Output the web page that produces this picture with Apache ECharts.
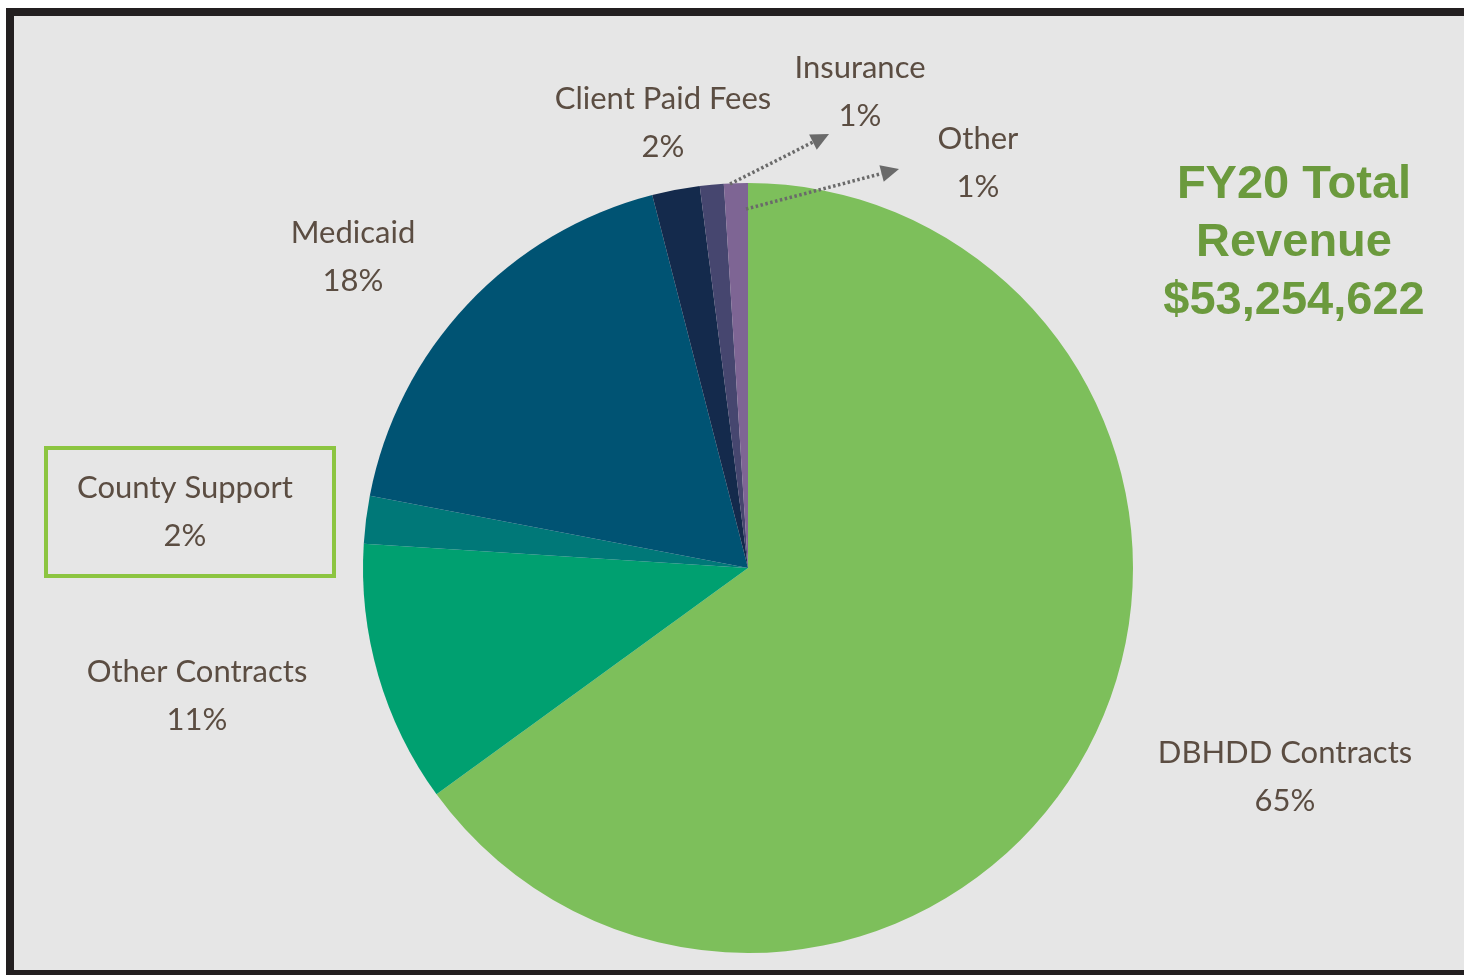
<!DOCTYPE html>
<html>
<head>
<meta charset="utf-8">
<title>FY20 Total Revenue</title>
<script src="https://cdn.jsdelivr.net/npm/echarts@6/dist/echarts.min.js"></script>
<style>
  html, body { margin: 0; padding: 0; background: #fff; overflow: hidden; }
  .frame {
    position: absolute; left: 6px; top: 8px; width: 1500px; height: 970px;
    box-sizing: border-box; border: 8px solid #231f20; background: #e6e6e6;
  }
  #main { position: absolute; left: 0; top: 0; width: 1464px; height: 975px; }
</style>
</head>
<body>
<div class="frame"></div>
<div id="main"></div>
<script>
// revenue sources, clockwise from 12 o'clock
const categories = ['DBHDD Contracts', 'Other Contracts', 'County Support', 'Medicaid', 'Client Paid Fees', 'Insurance', 'Other'];
const shares = [65, 11, 2, 18, 2, 1, 1];
const colors = ['#7dbf5b', '#00a070', '#007878', '#005373', '#142a4c', '#46466f', '#7e6594'];
const totalLines = ['FY20 Total', 'Revenue', '$53,254,622'];

// where each label sits (centre of the two-line block)
const labelPos = [
  [1285, 777], [197, 696], [185, 512], [353, 257], [663, 123], [860, 92], [978, 163]
];

const arrows = [
  [[730, 184], [829, 134]],
  [[746, 209], [899, 169]]
];

function arrowGraphics() {
  const out = [];
  arrows.forEach(a => {
    const [p0, p1] = a;
    const dx = p1[0] - p0[0], dy = p1[1] - p0[1];
    const len = Math.sqrt(dx * dx + dy * dy);
    const ux = dx / len, uy = dy / len;
    const bx = p1[0] - ux * 18, by = p1[1] - uy * 18;
    out.push({
      type: 'line',
      shape: { x1: p0[0], y1: p0[1], x2: bx, y2: by },
      style: { stroke: '#6a6a6a', lineWidth: 3.5, lineDash: [2.5, 2.5] },
      z: 10
    });
    out.push({
      type: 'polygon',
      shape: { points: [p1, [bx - uy * 8.5, by + ux * 8.5], [bx + uy * 8.5, by - ux * 8.5]] },
      style: { fill: '#6a6a6a' },
      z: 10
    });
  });
  return out;
}

const chart = echarts.init(document.getElementById('main'));
chart.setOption({
  backgroundColor: 'transparent',
  animation: false,
  graphic: [
    {
      type: 'rect',
      shape: { x: 46, y: 448, width: 288, height: 128 },
      style: { fill: 'none', stroke: '#8cc541', lineWidth: 4 }
    },
    {
      type: 'text',
      x: 1294, y: 243,
      style: {
        text: totalLines.join('\n'),
        font: 'bold 47px "Liberation Sans", Arial, sans-serif',
        fill: '#6b9a3d',
        align: 'center',
        verticalAlign: 'middle',
        lineHeight: 58
      }
    }
  ].concat(arrowGraphics()),
  series: [{
    type: 'pie',
    center: [748, 568],
    radius: 385,
    startAngle: 90,
    clockwise: true,
    silent: true,
    color: colors,
    itemStyle: { borderWidth: 0 },
    label: {
      show: true,
      position: 'outside',
      formatter: p => p.name + '\n' + p.value + '%',
      fontFamily: 'Lato, "Open Sans", sans-serif',
      fontSize: 31,
      lineHeight: 48,
      color: '#5b4d42',
      align: 'center'
    },
    labelLine: { show: false },
    labelLayout: p => ({
      x: labelPos[p.dataIndex][0],
      y: labelPos[p.dataIndex][1],
      align: 'center',
      verticalAlign: 'middle'
    }),
    data: categories.map((c, i) => ({ name: c, value: shares[i] }))
  }]
});
</script>
</body>
</html>
